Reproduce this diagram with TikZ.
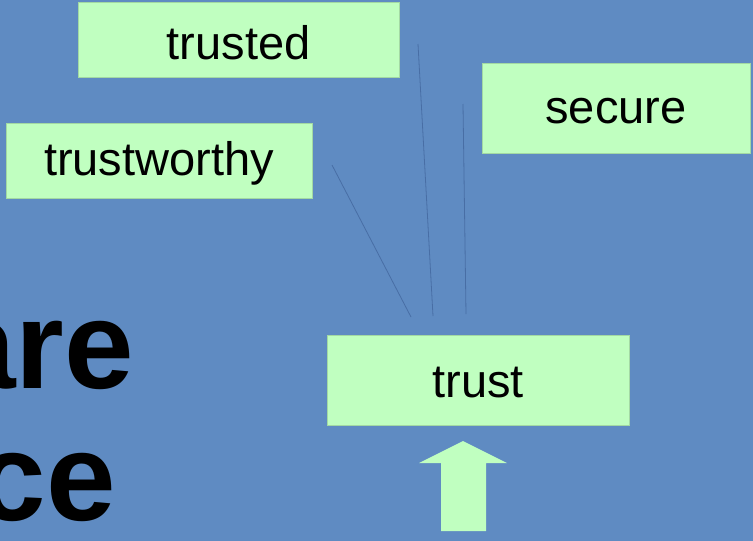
\documentclass[tikz,border=0pt]{standalone}
\usepackage{fontspec}
\setmainfont{Liberation Sans}
\definecolor{bgblue}{RGB}{95,139,194}
\definecolor{boxgreen}{RGB}{192,255,192}
\definecolor{linkblue}{RGB}{72,110,165}
\newcommand{\boxtext}[1]{\raisebox{-3pt}[\height][\depth]{#1}}
\begin{document}
\begin{tikzpicture}[x=1pt,y=-1pt,
  box/.style={fill=boxgreen,draw=boxgreen!85!black,line width=0.3pt,inner sep=0pt,font=\fontsize{47}{56}\selectfont},
  link/.style={draw=linkblue,line width=0.8pt},
  bigtext/.style={font=\fontsize{125}{150}\selectfont\bfseries,inner sep=0pt}]
\useasboundingbox (0,0) rectangle (753,541);
\fill[bgblue] (0,0) rectangle (753,541);
\begin{scope}
\clip (0,0) rectangle (753,541);
\node[bigtext,anchor=base east] (are) at (134,388) {are};
\node[bigtext,anchor=base east] (ce) at (116,520) {ce};
\end{scope}
\node[box,minimum width=321pt,minimum height=75pt] (trusted) at (238.5,39.5) {\boxtext{trusted}};
\node[box,minimum width=268pt,minimum height=90pt] (secure) at (616,108) {\boxtext{secure}};
\node[box,minimum width=306pt,minimum height=75pt] (trustworthy) at (159,160.5) {\boxtext{trustworthy}};
\node[box,minimum width=302pt,minimum height=90pt] (trust) at (478,380) {\boxtext{trust}};
\coordinate (a1) at (332,165);
\coordinate (b1) at (411,317);
\coordinate (a2) at (418,44);
\coordinate (b2) at (433,316);
\coordinate (a3) at (463,104);
\coordinate (b3) at (466,314);
\draw[link] (a1) -- (b1);
\draw[link] (a2) -- (b2);
\draw[link] (a3) -- (b3);
\fill[boxgreen] (441,531) -- (441,463) -- (419,463) -- (463,441) -- (507,463) -- (486,463) -- (486,531) -- cycle;
\end{tikzpicture}
\end{document}
